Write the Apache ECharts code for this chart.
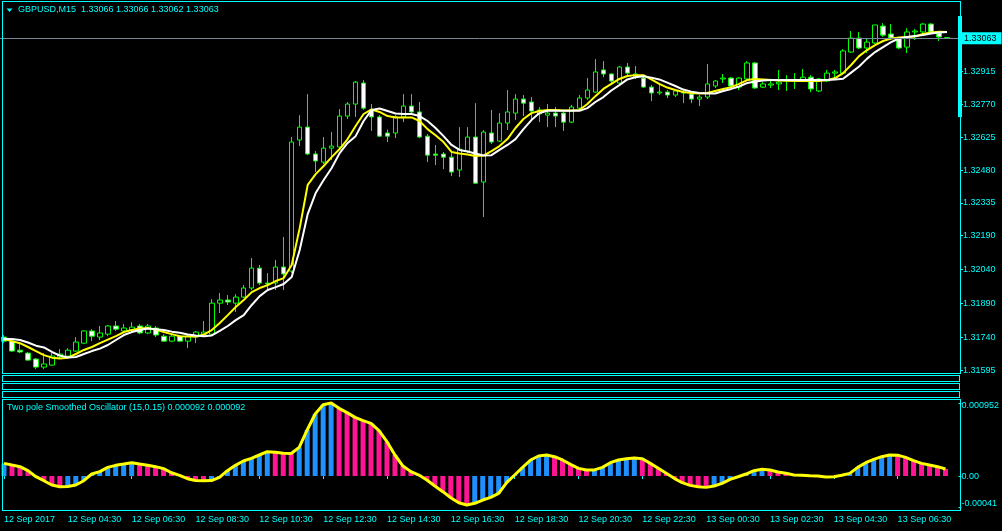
<!DOCTYPE html>
<html><head><meta charset="utf-8">
<script src="https://cdn.jsdelivr.net/npm/echarts@6/dist/echarts.min.js"></script>
<style>html,body{margin:0;padding:0;background:#000;}#c{width:1002px;height:531px;}</style>
</head><body><div id="c"></div>
<script>
const symbolTitle = 'GBPUSD,M15  1.33066 1.33066 1.33062 1.33063';
const oscTitle = 'Two pole Smoothed Oscillator (15,0.15) 0.000092 0.000092';

const open = [1.31741,1.31723,1.31683,1.31670,1.31644,1.31608,1.31617,1.31653,1.31657,1.31679,
1.31714,1.31768,1.31741,1.31754,1.31790,1.31768,1.31772,1.31790,1.31759,1.31781,
1.31745,1.31723,1.31745,1.31723,1.31741,1.31754,1.31754,1.31891,1.31905,1.31891,
1.31918,1.31958,1.32046,1.31980,1.31980,1.32051,1.32033,1.32613,1.32670,1.32551,
1.32515,1.32577,1.32582,1.32719,1.32772,1.32865,1.32746,1.32715,1.32644,1.32644,
1.32715,1.32763,1.32737,1.32630,1.32551,1.32551,1.32537,1.32480,1.32564,1.32626,
1.32427,1.32644,1.32608,1.32688,1.32732,1.32794,1.32781,1.32728,1.32723,1.32732,
1.32732,1.32692,1.32754,1.32799,1.32825,1.32923,1.32905,1.32865,1.32936,1.32891,
1.32887,1.32847,1.32821,1.32825,1.32812,1.32821,1.32816,1.32794,1.32803,1.32852,
1.32883,1.32887,1.32847,1.32883,1.32954,1.32847,1.32856,1.32861,1.32874,1.32878,
1.32874,1.32891,1.32830,1.32874,1.32909,1.32909,1.33002,1.33064,1.33020,1.33042,
1.33117,1.33082,1.33064,1.33024,1.33091,1.33091,1.33126,1.33086,1.33066];

const close = [1.31723,1.31679,1.31675,1.31639,1.31608,1.31622,1.31657,1.31666,1.31683,1.31719,
1.31768,1.31745,1.31759,1.31790,1.31776,1.31781,1.31785,1.31759,1.31790,1.31750,
1.31723,1.31745,1.31723,1.31745,1.31763,1.31763,1.31891,1.31905,1.31896,1.31918,
1.31958,1.32046,1.31980,1.31976,1.32051,1.32020,1.32604,1.32670,1.32551,1.32520,
1.32577,1.32586,1.32719,1.32772,1.32869,1.32754,1.32715,1.32630,1.32630,1.32715,
1.32763,1.32737,1.32626,1.32546,1.32546,1.32537,1.32471,1.32573,1.32626,1.32422,
1.32648,1.32604,1.32688,1.32737,1.32794,1.32776,1.32741,1.32746,1.32732,1.32719,
1.32692,1.32759,1.32799,1.32834,1.32914,1.32905,1.32874,1.32936,1.32909,1.32905,
1.32847,1.32821,1.32825,1.32812,1.32830,1.32825,1.32794,1.32803,1.32861,1.32874,
1.32887,1.32852,1.32887,1.32954,1.32843,1.32861,1.32861,1.32869,1.32876,1.32879,
1.32891,1.32839,1.32883,1.32909,1.32914,1.33007,1.33064,1.33020,1.33046,1.33122,
1.33077,1.33064,1.33020,1.33091,1.33095,1.33126,1.33091,1.33069,1.33063];

const high = [1.31750,1.31728,1.31710,1.31675,1.31648,1.31670,1.31670,1.31688,1.31692,1.31741,
1.31772,1.31776,1.31790,1.31794,1.31812,1.31799,1.31807,1.31799,1.31799,1.31790,
1.31754,1.31750,1.31750,1.31750,1.31768,1.31812,1.31909,1.31936,1.31927,1.31931,
1.31971,1.32091,1.32060,1.32024,1.32082,1.32184,1.32626,1.32723,1.32816,1.32564,
1.32626,1.32648,1.32750,1.32781,1.32874,1.32878,1.32772,1.32723,1.32659,1.32723,
1.32816,1.32816,1.32781,1.32639,1.32591,1.32560,1.32555,1.32670,1.32670,1.32776,
1.32657,1.32746,1.32732,1.32834,1.32816,1.32812,1.32803,1.32759,1.32772,1.32759,
1.32737,1.32768,1.32812,1.32887,1.32971,1.32962,1.32909,1.32940,1.32954,1.32940,
1.32891,1.32856,1.32865,1.32834,1.32834,1.32839,1.32825,1.32812,1.32949,1.32878,
1.32905,1.32891,1.32891,1.32962,1.32958,1.32869,1.32878,1.32923,1.32900,1.32909,
1.32927,1.32900,1.32887,1.32923,1.32923,1.33015,1.33095,1.33091,1.33064,1.33122,
1.33130,1.33126,1.33069,1.33108,1.33104,1.33130,1.33130,1.33091,1.33066];

const low = [1.31714,1.31675,1.31670,1.31635,1.31599,1.31599,1.31613,1.31644,1.31653,1.31675,
1.31710,1.31723,1.31728,1.31745,1.31768,1.31759,1.31763,1.31754,1.31754,1.31741,
1.31723,1.31719,1.31719,1.31692,1.31714,1.31750,1.31750,1.31847,1.31883,1.31852,
1.31914,1.31949,1.31971,1.31949,1.31949,1.31949,1.32024,1.32586,1.32546,1.32471,
1.32507,1.32524,1.32569,1.32706,1.32715,1.32746,1.32653,1.32626,1.32604,1.32622,
1.32692,1.32732,1.32622,1.32515,1.32502,1.32484,1.32453,1.32449,1.32555,1.32418,
1.32272,1.32595,1.32604,1.32657,1.32701,1.32719,1.32701,1.32692,1.32670,1.32670,
1.32653,1.32688,1.32746,1.32790,1.32821,1.32891,1.32856,1.32856,1.32900,1.32883,
1.32843,1.32785,1.32812,1.32799,1.32803,1.32776,1.32776,1.32763,1.32794,1.32843,
1.32865,1.32847,1.32834,1.32874,1.32839,1.32843,1.32843,1.32834,1.32830,1.32839,
1.32869,1.32825,1.32825,1.32869,1.32891,1.32905,1.32998,1.33015,1.32998,1.33038,
1.33069,1.33055,1.33015,1.32998,1.33055,1.33086,1.33086,1.33051,1.33062];

const maFast = [1.31732,1.31723,1.31714,1.31697,1.31679,1.31661,1.31650,1.31646,1.31650,1.31666,
1.31684,1.31697,1.31714,1.31730,1.31745,1.31763,1.31772,1.31779,1.31781,1.31774,
1.31763,1.31754,1.31745,1.31743,1.31743,1.31752,1.31772,1.31803,1.31838,1.31874,
1.31905,1.31940,1.31958,1.31971,1.31989,1.32002,1.32060,1.32223,1.32414,1.32462,
1.32498,1.32537,1.32573,1.32617,1.32675,1.32728,1.32748,1.32737,1.32719,1.32713,
1.32713,1.32713,1.32697,1.32661,1.32634,1.32604,1.32560,1.32553,1.32549,1.32542,
1.32544,1.32564,1.32586,1.32617,1.32666,1.32706,1.32732,1.32741,1.32746,1.32746,
1.32743,1.32743,1.32746,1.32772,1.32807,1.32839,1.32861,1.32883,1.32896,1.32900,
1.32900,1.32881,1.32861,1.32845,1.32834,1.32825,1.32821,1.32819,1.32821,1.32830,
1.32839,1.32847,1.32861,1.32878,1.32883,1.32881,1.32878,1.32876,1.32875,1.32874,
1.32874,1.32874,1.32874,1.32878,1.32887,1.32909,1.32945,1.32984,1.33011,1.33033,
1.33051,1.33062,1.33066,1.33069,1.33071,1.33082,1.33089,1.33092,1.33091];

const maSlow = [1.31732,1.31732,1.31728,1.31717,1.31703,1.31695,1.31675,1.31659,1.31651,1.31653,
1.31666,1.31679,1.31690,1.31706,1.31728,1.31750,1.31763,1.31772,1.31779,1.31776,
1.31772,1.31765,1.31760,1.31752,1.31748,1.31745,1.31748,1.31768,1.31790,1.31816,
1.31838,1.31883,1.31922,1.31949,1.31962,1.31976,1.32007,1.32126,1.32285,1.32378,
1.32436,1.32489,1.32555,1.32600,1.32630,1.32697,1.32746,1.32752,1.32741,1.32730,
1.32728,1.32728,1.32719,1.32697,1.32666,1.32630,1.32591,1.32569,1.32562,1.32553,
1.32544,1.32546,1.32569,1.32591,1.32617,1.32661,1.32701,1.32732,1.32742,1.32742,
1.32742,1.32742,1.32742,1.32754,1.32781,1.32803,1.32832,1.32856,1.32881,1.32891,
1.32895,1.32889,1.32881,1.32867,1.32852,1.32836,1.32827,1.32821,1.32819,1.32819,
1.32830,1.32839,1.32850,1.32865,1.32872,1.32876,1.32878,1.32878,1.32878,1.32878,
1.32878,1.32878,1.32878,1.32878,1.32881,1.32884,1.32911,1.32938,1.32973,1.33002,
1.33024,1.33046,1.33062,1.33069,1.33073,1.33077,1.33084,1.33089,1.33091];

const osc = [0.000165,0.000143,0.000122,0.000070,-0.000009,-0.000061,-0.000117,-0.000141,-0.000137,-0.000117,
-0.000061,0.000026,0.000057,0.000113,0.000139,0.000156,0.000174,0.000156,0.000139,0.000122,
0.000096,0.000043,0.000009,-0.000035,-0.000058,-0.000062,-0.000060,-0.000017,0.000070,0.000139,
0.000196,0.000230,0.000274,0.000317,0.000309,0.000296,0.000294,0.000374,0.000600,0.000809,
0.000930,0.000952,0.000882,0.000826,0.000765,0.000722,0.000687,0.000591,0.000448,0.000274,
0.000130,0.000057,0.000013,-0.000052,-0.000130,-0.000204,-0.000283,-0.000348,-0.000378,-0.000356,
-0.000313,-0.000278,-0.000226,-0.000087,0.000013,0.000113,0.000209,0.000261,0.000274,0.000252,
0.000209,0.000152,0.000100,0.000078,0.000080,0.000113,0.000174,0.000209,0.000226,0.000235,
0.000226,0.000165,0.000100,0.000035,-0.000030,-0.000087,-0.000122,-0.000139,-0.000148,-0.000130,
-0.000096,-0.000043,-0.000009,0.000026,0.000070,0.000087,0.000078,0.000052,0.000035,0.000013,
0.000009,0.000004,0.000001,-0.000012,-0.000010,0.000009,0.000035,0.000113,0.000174,0.000217,
0.000252,0.000274,0.000272,0.000243,0.000200,0.000165,0.000143,0.000122,0.000092];

const priceTicks = [1.32915,1.32770,1.32625,1.32480,1.32335,1.32190,1.32040,1.31890,1.31740,1.31595];
const oscTicks = [0.000952, 0, -0.00041];
const oscTickLabels = ['0.000952','0.00','-0.00041'];
const timeTickLabels = ['12 Sep 2017','12 Sep 04:30','12 Sep 06:30','12 Sep 08:30','12 Sep 10:30','12 Sep 12:30',
 '12 Sep 14:30','12 Sep 16:30','12 Sep 18:30','12 Sep 20:30','12 Sep 22:30','13 Sep 00:30','13 Sep 02:30',
 '13 Sep 04:30','13 Sep 06:30'];

// categories: 15-minute bars from 12 Sep 02:30, plus one empty slot (chart shift)
const categories = [];
for (let i = 0; i < open.length; i++) {
  const m = 150 + 15 * i, d = 12 + Math.floor(m / 1440), mm = m % 1440;
  categories.push(d + ' Sep ' + String(Math.floor(mm / 60)).padStart(2, '0') + ':' + String(mm % 60).padStart(2, '0'));
}
categories.push('');

const CY = '#00ffff';
const FONT = 'Liberation Sans';
const candleData = open.map((o, i) => [o, close[i], low[i], high[i]]);
const oscBars = osc.map((v, i) => ({
  value: v,
  itemStyle: { color: (i === 0 || v > osc[i - 1]) ? '#1e90ff' : '#ff1493' }
}));
const tickEvery = (i) => i % 8 === 0 && i < open.length;

// window frames drawn as 1px filled strips (crisp)
function frame(x0, y0, x1, y1) {
  const s = { fill: CY };
  return [
    { type: 'rect', shape: { x: x0, y: y0, width: x1 - x0 + 1, height: 1 }, style: s, z: 100, silent: true },
    { type: 'rect', shape: { x: x0, y: y1, width: x1 - x0 + 1, height: 1 }, style: s, z: 100, silent: true },
    { type: 'rect', shape: { x: x0, y: y0, width: 1, height: y1 - y0 + 1 }, style: s, z: 100, silent: true },
    { type: 'rect', shape: { x: x1, y: y0, width: 1, height: y1 - y0 + 1 }, style: s, z: 100, silent: true }
  ];
}

const chart = echarts.init(document.getElementById('c'), null, { renderer: 'canvas' });
chart.setOption({
  backgroundColor: '#000',
  animation: false,
  grid: [
    { left: -1, right: 43, top: 1, height: 372 },
    { left: -1, right: 43, top: 399, height: 111 }
  ],
  xAxis: [
    { type: 'category', gridIndex: 0, data: categories, boundaryGap: true, show: false },
    { type: 'category', gridIndex: 1, data: categories, boundaryGap: true,
      axisLine: { show: false },
      axisTick: { show: true, interval: tickEvery, alignWithLabel: true, length: 3, lineStyle: { color: CY } },
      axisLabel: { interval: tickEvery, formatter: (v, i) => timeTickLabels[i / 8], align: 'left',
        color: CY, fontSize: 9, fontFamily: FONT, margin: 5 }
    }
  ],
  yAxis: [
    { type: 'value', gridIndex: 0, position: 'right', offset: 1, min: 1.31582, max: 1.33228,
      axisLine: { show: false }, splitLine: { show: false },
      axisTick: { show: true, customValues: priceTicks, length: 3, lineStyle: { color: CY } },
      axisLabel: { customValues: priceTicks, formatter: (v) => v.toFixed(5), color: CY, fontSize: 9,
        fontFamily: FONT, margin: 3 }
    },
    { type: 'value', gridIndex: 1, position: 'right', offset: 1, min: -0.000443, max: 0.001004,
      axisLine: { show: false }, splitLine: { show: false },
      axisTick: { show: true, customValues: oscTicks, length: 3, lineStyle: { color: CY } },
      axisLabel: { customValues: oscTicks,
        formatter: (v) => {
          const k = oscTicks.indexOf(v);
          return k === 0 ? '{t|' + oscTickLabels[k] + '}' : (k === 2 ? '{b|' + oscTickLabels[k] + '}' : oscTickLabels[k]);
        },
        rich: { t: { padding: [5, 0, 0, 0], fontSize: 9, fontFamily: FONT, color: CY },
                b: { padding: [0, 0, 7, 0], fontSize: 9, fontFamily: FONT, color: CY } },
        color: CY, fontSize: 9, fontFamily: FONT, margin: 3 }
    }
  ],
  series: [
    { type: 'candlestick', xAxisIndex: 0, yAxisIndex: 0, data: candleData, barWidth: 5,
      itemStyle: { color: '#000', color0: '#fff', borderColor: '#00ff00', borderColor0: '#00ff00', borderWidth: 1 },
      markLine: { silent: true, symbol: ['none', 'none'], animation: false, precision: 5,
        data: [{ yAxis: close[close.length - 1] }],
        lineStyle: { color: '#778899', width: 1, type: 'solid' },
        label: { show: true, position: 'end', distance: 1, formatter: (p) => Number(p.value).toFixed(5),
          backgroundColor: CY, color: '#000', padding: [2, 5, 1, 4], fontSize: 9, fontFamily: FONT }
      }
    },
    { type: 'line', xAxisIndex: 0, yAxisIndex: 0, data: maFast, symbol: 'none',
      lineStyle: { color: '#ffff00', width: 2 } },
    { type: 'line', xAxisIndex: 0, yAxisIndex: 0, data: maSlow, symbol: 'none',
      lineStyle: { color: '#ffffff', width: 2 } },
    { type: 'line', xAxisIndex: 1, yAxisIndex: 1, data: osc, symbol: 'none',
      lineStyle: { color: '#ffff00', width: 3 } },
    { type: 'bar', xAxisIndex: 1, yAxisIndex: 1, data: oscBars, barWidth: 5 }
  ],
  graphic: [].concat(
    frame(2, 1, 960, 373),
    frame(2, 375, 959, 381),
    frame(2, 383, 959, 389),
    frame(2, 391, 959, 397),
    frame(2, 399, 960, 510),
    [
      { type: 'rect', shape: { x: 958, y: 16, width: 4, height: 101 }, style: { fill: CY }, z: 101 },
      { type: 'polygon', shape: { points: [[6.5, 8.5], [12.5, 8.5], [9.5, 12]] }, style: { fill: CY }, z: 101 },
      { type: 'text', x: 18, y: 5, style: { text: symbolTitle, fill: CY, font: '9px "Liberation Sans"' }, z: 101 },
      { type: 'text', x: 7, y: 403, style: { text: oscTitle, fill: CY, font: '9px "Liberation Sans"' }, z: 101 }
    ]
  )
});
</script>
</body></html>
